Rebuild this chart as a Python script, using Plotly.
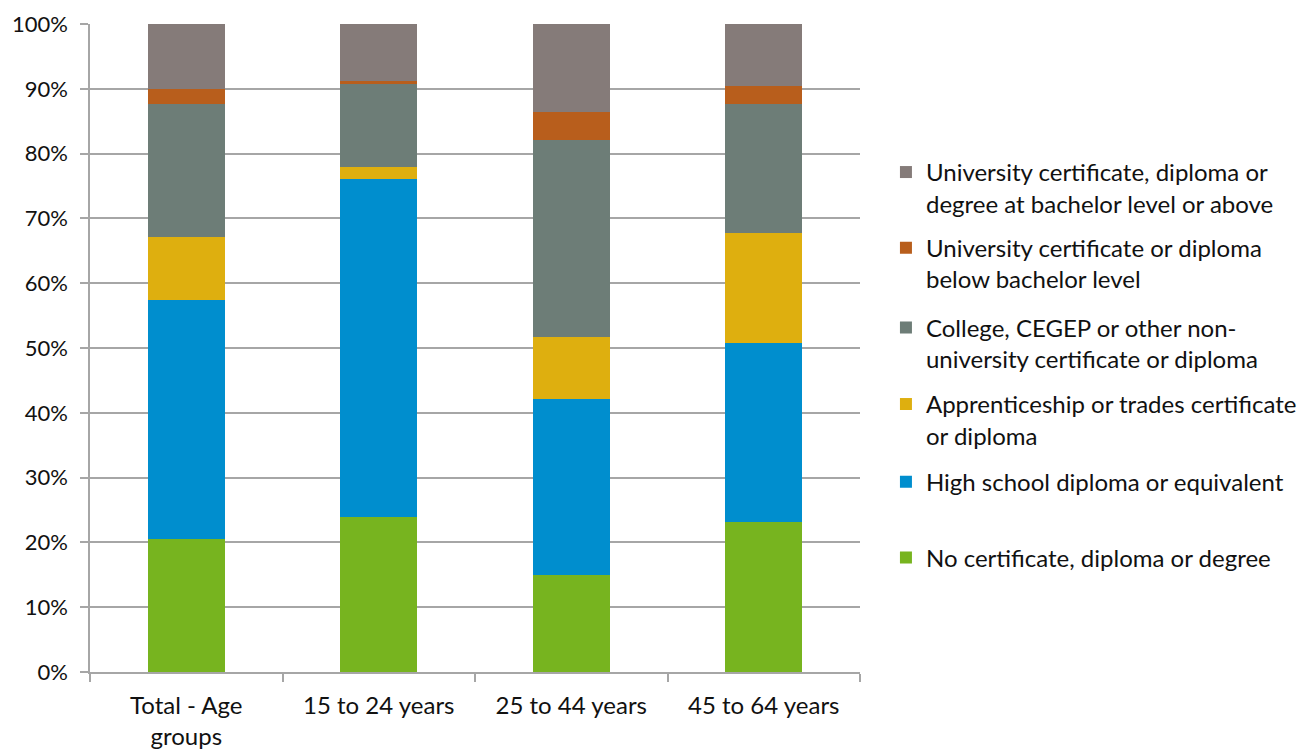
import plotly.graph_objects as go

categories = ["Total - Age<br>groups", "15 to 24 years", "25 to 44 years", "45 to 64 years"]

series_names = [
    "No certificate, diploma or degree",
    "High school diploma or equivalent",
    "Apprenticeship or trades certificate<br>or diploma",
    "College, CEGEP or other non-<br>university certificate or diploma",
    "University certificate or diploma<br>below bachelor level",
    "University certificate, diploma or<br>degree at bachelor level or above",
]

no_cert = [20.5, 23.9, 14.9, 23.15]
high_school = [36.9, 52.2, 27.3, 27.55]
apprenticeship = [9.7, 1.9, 9.5, 17.0]
college = [20.55, 12.85, 30.35, 19.9]
univ_below = [2.3, 0.3, 4.35, 2.9]
univ_bachelor = [10.05, 8.85, 13.6, 9.5]

series_values = [no_cert, high_school, apprenticeship, college, univ_below, univ_bachelor]
colors = ["#77B41F", "#008ECE", "#DEAF0F", "#6D7D77", "#B85E1C", "#857B79"]

y_ticks = [0, 10, 20, 30, 40, 50, 60, 70, 80, 90, 100]
y_tick_labels = [f"{v}%" for v in y_ticks]

# vertical centre (paper coords) of each legend entry, bottom series first
legend_y = [0.176, 0.293, 0.389, 0.507, 0.630, 0.747]

font_family = "Lato, 'Open Sans', sans-serif"
text_color = "#111111"

fig = go.Figure()
legend_layout = {}
for i, (name, vals, col) in enumerate(zip(series_names, series_values, colors)):
    lname = "legend" if i == 0 else f"legend{i + 1}"
    fig.add_trace(go.Bar(
        x=categories, y=vals, name=name,
        marker=dict(color=col, line=dict(width=0)),
        legend=lname,
    ))
    legend_layout[lname] = dict(
        x=1.0337, xanchor="left", y=legend_y[i], yanchor="middle",
        font=dict(size=24, family=font_family, color=text_color),
        valign="top", bgcolor="rgba(0,0,0,0)", itemwidth=30,
    )

fig.update_layout(
    barmode="stack",
    bargap=0.6,
    width=1314, height=749,
    margin=dict(l=90, r=452, t=24, b=77),
    plot_bgcolor="white", paper_bgcolor="white",
    font=dict(family=font_family, size=24, color=text_color),
    showlegend=True,
    **legend_layout,
)
fig.update_yaxes(
    range=[0, 100], tickvals=y_ticks, ticktext=y_tick_labels,
    tickfont=dict(size=22, family=font_family, color=text_color),
    showgrid=True, gridcolor="#A6A6A6", gridwidth=1.5,
    showline=True, linecolor="#A6A6A6", linewidth=1.5,
    ticks="outside", ticklen=8, tickcolor="#A6A6A6", tickwidth=1.5,
    ticklabelstandoff=8,
    zeroline=False, automargin=False,
)
fig.update_xaxes(
    tickfont=dict(size=24, family=font_family, color=text_color),
    showline=True, linecolor="#A6A6A6", linewidth=1.5,
    ticks="outside", ticklen=8, tickcolor="#A6A6A6", tickwidth=1.5,
    tickson="boundaries", showgrid=False,
    ticklabelstandoff=11, automargin=False,
)

fig.write_html("out.html")
